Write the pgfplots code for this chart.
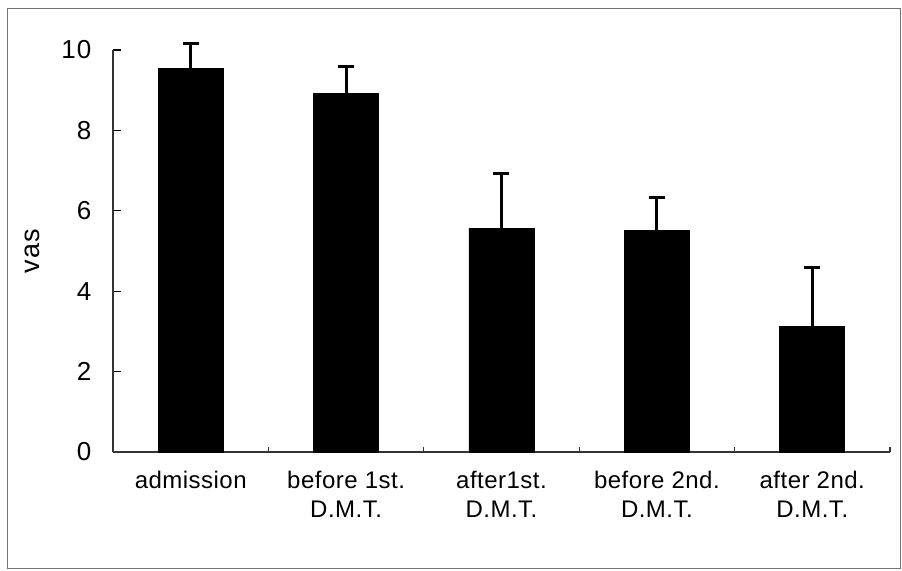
\documentclass[border=0pt]{standalone}
\usepackage{fontspec}
\setmainfont{Liberation Sans}
\newfontfamily\lab{Liberation Sans}[LetterSpace=2]
\newfontfamily\tickf{Liberation Sans}[LetterSpace=4]
\usepackage{pgfplots}
\pgfplotsset{compat=1.18}
\begin{document}
\begin{tikzpicture}
\begin{axis}[
  at={(0,0)}, anchor=south west,
  scale only axis,
  width=388.5pt, height=201pt,
  xmin=-0.5, xmax=4.5, ymin=0, ymax=10,
  clip=false,
  axis x line*=bottom, axis y line*=left,
  axis line style={-, line width=0.6pt, black!80},
  tick align=inside,
  ytick={0,2,4,6,8,10},
  major tick length=4pt,
  ytick style={line width=0.6pt, black},
  xtick={0,1,2,3,4},
  xtick style={draw=none},
  minor xtick={0.5,1.5,2.5,3.5,4.5},
  minor x tick style={draw=black!80, line width=0.6pt},
  minor tick length=2.5pt,
  xticklabels={admission,{before 1st.\\D.M.T.},{after1st.\\D.M.T.},{before 2nd.\\D.M.T.},{after 2nd.\\D.M.T.}},
  xticklabel style={align=center, font={\lab\fontsize{12}{14.5}\selectfont}, yshift=-6pt},
  yticklabel style={font={\tickf\fontsize{13}{15}\selectfont}, xshift=-7.3pt},
  /pgf/number format/assume math mode=true,
  ylabel={vas},
  every axis y label/.style={at={(rel axis cs:0,0.5)}, xshift=-40.5pt, rotate=90, anchor=center, font={\tickf\fontsize{13.5}{15}\selectfont}},
]
\addplot[ybar, bar width=32.5pt, fill=black, draw=black,
  error bars/.cd, y dir=plus, y explicit,
  error bar style={line width=1.5pt, black},
  error mark options={rotate=90, mark size=4pt, line width=1.5pt, black}]
  coordinates {
  (0,9.53) +- (0,0.62)
  (1,8.93) +- (0,0.67)
  (2,5.57) +- (0,1.37)
  (3,5.52) +- (0,0.80)
  (4,3.13) +- (0,1.45)
  };
\end{axis}
\draw[black!55, line width=0.5pt] (-52.5pt,-58.5pt) rectangle (393.5pt,221.5pt);
\pgfresetboundingbox
\path[use as bounding box] (-56.5pt,-59.5pt) rectangle (394.5pt,226pt);
\end{tikzpicture}
\end{document}
